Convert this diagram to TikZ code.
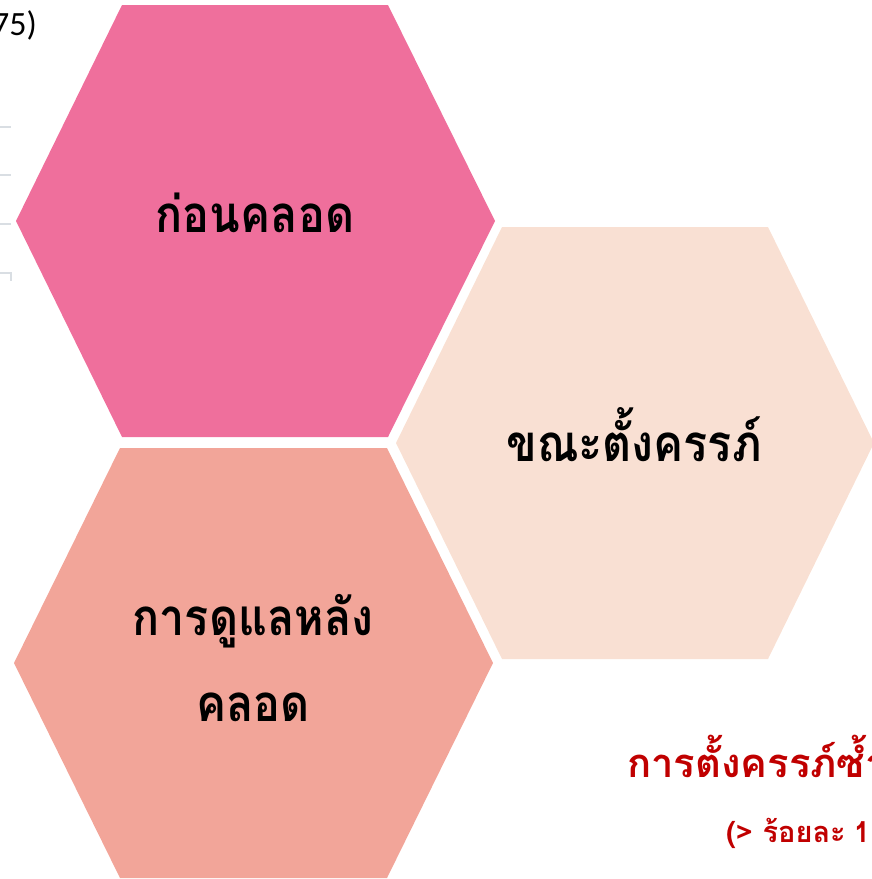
\documentclass[tikz,border=0pt]{standalone}
\usepackage{fontspec}
\newfontfamily\thaifont[Script=Thai,FakeStretch=0.88]{Loma}
\newfontfamily\thaiplain[Script=Thai]{Loma}
\newfontfamily\calib{Carlito}
\setmainfont{Liberation Sans}
\definecolor{hexpink}{HTML}{EF6F9C}
\definecolor{hexpeach}{HTML}{F9E0D3}
\definecolor{hexsalmon}{HTML}{F2A599}
\definecolor{darkred}{HTML}{C00000}
\definecolor{gridgray}{HTML}{D9DEE3}
\begin{document}
\begin{tikzpicture}[x=1pt,y=-1pt,
  hexlabel/.style={font=\thaifont\bfseries\fontsize{51}{86}\selectfont, text=black, align=center, inner sep=0pt},
  redlabel/.style={text=darkred, anchor=base west, inner sep=0pt},
  gridline/.style={draw=gridgray, line width=1.2pt}]
\useasboundingbox (0,0) rectangle (872,879);
\clip (0,0) rectangle (872,879);
% table remnants
\draw[gridline] (0,127) -- (11,127);
\draw[gridline] (0,175) -- (11,175);
\draw[gridline] (0,224) -- (11,224);
\draw[gridline] (0,273) -- (11,273) -- (11,281);
\node[anchor=base east, inner sep=0pt, font=\calib\fontsize{34}{40}\selectfont] (yr) at (37,35) {75)};
% hexagons
\fill[hexpink] (16,221) -- (122,5) -- (388,5) -- (495,221) -- (388,437) -- (122,437) -- cycle;
\fill[hexpeach] (396,443) -- (502,227) -- (768,227) -- (874,443) -- (768,659) -- (502,659) -- cycle;
\fill[hexsalmon] (14,663) -- (120,448) -- (387,448) -- (493,663) -- (387,878) -- (120,878) -- cycle;
% labels
\node[hexlabel] (before) at (255,213) {ก่อนคลอด};
\node[hexlabel] (during) at (634,435) {ขณะตั้งครรภ์};
\node[hexlabel] (after) at (253,658) {การดูแลหลัง\\คลอด};
\node[redlabel, font=\thaiplain\bfseries\fontsize{40}{48}\selectfont] (repeat) at (627,777) {การตั้งครรภ์ซ้ำ};
\node[redlabel, font=\thaiplain\bfseries\fontsize{29}{36}\selectfont] (pct) at (726,842) {(> ร้อยละ\hspace{8pt}1};
\end{tikzpicture}
\end{document}
